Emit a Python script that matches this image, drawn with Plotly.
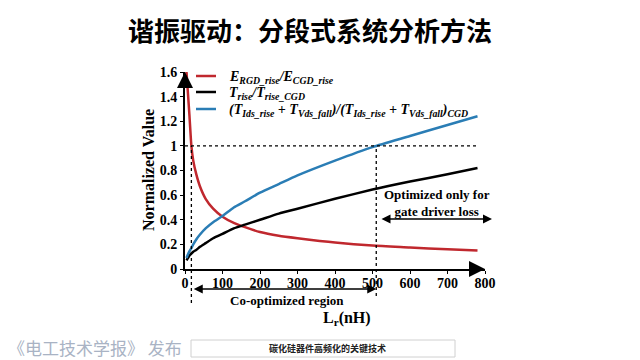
import plotly.graph_objects as go

# ---------------- data ----------------
lr_nh = [4, 8, 12, 17, 22, 30, 40, 55, 75, 100, 130, 160, 200, 250, 300, 400, 500, 600, 700, 780]
e_ratio = [1.6, 1.42, 1.24, 1.0, 0.88, 0.77, 0.67, 0.57, 0.49, 0.425, 0.375, 0.34, 0.30, 0.27, 0.25, 0.215, 0.19, 0.175, 0.16, 0.15]
t_rise_ratio = [0.07, 0.09, 0.11, 0.125, 0.14, 0.155, 0.18, 0.21, 0.25, 0.285, 0.33, 0.36, 0.40, 0.45, 0.49, 0.57, 0.645, 0.71, 0.77, 0.82]
t_sw_ratio = [0.09, 0.12, 0.145, 0.17, 0.20, 0.24, 0.28, 0.33, 0.38, 0.43, 0.50, 0.55, 0.62, 0.69, 0.76, 0.88, 0.99, 1.08, 1.17, 1.24]

x_ticks = [0, 100, 200, 300, 400, 500, 600, 700, 800]
y_ticks = [0, 0.2, 0.4, 0.6, 0.8, 1.0, 1.2, 1.4, 1.6]
y_tick_text = ["0", "0.2", "0.4", "0.6", "0.8", "1", "1.2", "1.4", "1.6"]

S = '<sub style="font-size:58%">'
names = [
    f"E{S}RGD_rise</sub>/E{S}CGD_rise</sub>",
    f"T{S}rise</sub>/T{S}rise_CGD</sub>",
    f"(T{S}Ids_rise</sub> + T{S}Vds_fall</sub>)/(T{S}Ids_rise</sub> + T{S}Vds_fall</sub>){S}CGD</sub>",
]
colors = ["#c0282e", "#000000", "#2a7db5"]

lr_left = 17      # left boundary of co-optimized region
lr_right = 510    # right boundary
title = "谐振驱动：分段式系统分析方法"

# ---------------- layout helpers (reference pixel -> paper) ----------------
W, H = 640, 360
OFF = 8  # page body margin offset
PL, PT, PB, PR = 185, 72, 269, 485
L, T = PL - OFF, PT - OFF
B = H - (PB - OFF)
R = W - (PR - OFF)
PW, PH = PR - PL, PB - PT


def px(xp):
    return (xp - PL) / PW


def py(yp):
    return (PB - yp) / PH


serif = "Liberation Serif"

fig = go.Figure()
for yv, nm, c in zip([e_ratio, t_rise_ratio, t_sw_ratio], names, colors):
    fig.add_trace(go.Scatter(x=lr_nh, y=yv, name=nm, mode="lines",
                             line=dict(color=c, width=2.5, shape="spline", smoothing=0.6)))

fig.update_layout(
    width=W, height=H,
    margin=dict(l=L, r=R, t=T, b=B, autoexpand=False),
    plot_bgcolor="white", paper_bgcolor="white",
    title=dict(text=title, x=(310 - OFF) / W, xanchor="center", y=1 - (32 - OFF) / H, yanchor="middle",
               font=dict(family="Noto Sans CJK SC", size=26, color="black", weight="bold")),
    showlegend=False,
    xaxis=dict(range=[0, 800], tickvals=x_ticks, showline=True, linewidth=2, linecolor="black",
               ticks="outside", ticklen=3, tickwidth=1, tickcolor="black", ticklabelstandoff=-3,
               showgrid=False, zeroline=False,
               tickfont=dict(family=serif, size=14, color="black", weight="bold")),
    yaxis=dict(range=[0, 1.6], tickvals=y_ticks, ticktext=y_tick_text, showline=True, linewidth=2,
               linecolor="black", ticks="outside", ticklen=3, tickwidth=1, tickcolor="black",
               showgrid=False, zeroline=False,
               tickfont=dict(family=serif, size=14, color="black", weight="bold")),
)

# manual legend
leg_font = dict(family=serif, size=14, color="black", weight="bold", style="italic")
for nm, c, yy in zip(names, colors, [76, 92, 109]):
    fig.add_shape(type="line", xref="paper", yref="paper", x0=px(196), x1=px(216),
                  y0=py(yy), y1=py(yy), line=dict(color=c, width=2.5))
    fig.add_annotation(x=px(227), y=py(yy + 1), xref="paper", yref="paper", text=nm,
                       showarrow=False, xanchor="left", yanchor="middle", font=leg_font)

# dashed reference lines
dash = dict(color="black", width=1.3, dash="dot")
fig.add_shape(type="line", xref="x", yref="y", x0=0, x1=780, y0=1, y1=1, line=dash)
fig.add_shape(type="line", xref="x", yref="paper", x0=lr_left, x1=lr_left,
              y0=py(303), y1=1 / 1.6, line=dash)
fig.add_shape(type="line", xref="x", yref="paper", x0=lr_right, x1=lr_right,
              y0=py(296), y1=1 / 1.6, line=dash)

ann_font = dict(family=serif, size=13, color="black", weight="bold")

# axis arrows
fig.add_annotation(x=800, y=0, xref="x", yref="y", ax=-14, ay=0, axref="pixel", ayref="pixel",
                   text="", showarrow=True, arrowhead=2, arrowsize=1.6, arrowwidth=2, arrowcolor="black")
fig.add_annotation(x=0, y=1.6, xref="x", yref="y", ax=0, ay=14, text="", showarrow=True,
                   arrowhead=2, arrowsize=1.6, arrowwidth=2, arrowcolor="black")

# co-optimized region arrow
fig.add_annotation(x=lr_right, y=py(289), xref="x", yref="paper", ax=-(376 - 192), ay=0,
                   text="", showarrow=True, arrowhead=2, startarrowhead=2, arrowside="end+start",
                   arrowsize=1.2, arrowwidth=1.5, arrowcolor="black")
fig.add_annotation(x=px(287), y=py(300), xref="paper", yref="paper", text="Co-optimized region",
                   showarrow=False, font=ann_font, xanchor="center", yanchor="middle")

# gate driver loss arrow
fig.add_annotation(x=px(492), y=py(219), xref="paper", yref="paper", ax=-(492 - 380), ay=0,
                   text="", showarrow=True, arrowhead=2, startarrowhead=2, arrowside="end+start",
                   arrowsize=1.2, arrowwidth=1.5, arrowcolor="black")
fig.add_annotation(x=px(437), y=py(203), xref="paper", yref="paper",
                   text="Optimized only for<br>gate driver loss", showarrow=False, font=ann_font,
                   xanchor="center", yanchor="middle", align="center")

# axis titles
fig.add_annotation(x=px(148), y=py(170), xref="paper", yref="paper", text="Normalized Value",
                   textangle=-90, showarrow=False,
                   font=dict(family=serif, size=16, color="black", weight="bold"),
                   xanchor="center", yanchor="middle")
fig.add_annotation(x=px(347), y=py(318), xref="paper", yref="paper", text="L<sub>r</sub>(nH)",
                   showarrow=False, font=dict(family=serif, size=16, color="black", weight="bold"),
                   xanchor="center", yanchor="middle")

# footer
fig.add_annotation(x=px(6), y=py(347), xref="paper", yref="paper", text="《电工技术学报》 发布",
                   showarrow=False, xanchor="left", yanchor="middle",
                   font=dict(family="Noto Sans CJK SC", size=17, color="#a9b3c4"))
fig.add_shape(type="rect", xref="paper", yref="paper", x0=px(191), x1=px(455), y0=py(357), y1=py(340),
              line=dict(color="#d0d0d0", width=1), fillcolor="white")
fig.add_annotation(x=px(327), y=py(348), xref="paper", yref="paper", text="碳化硅器件高频化的关键技术",
                   showarrow=False, xanchor="center", yanchor="middle",
                   font=dict(family="Noto Sans CJK SC", size=9, color="#222222", weight="bold"))

fig.write_html("out.html")
